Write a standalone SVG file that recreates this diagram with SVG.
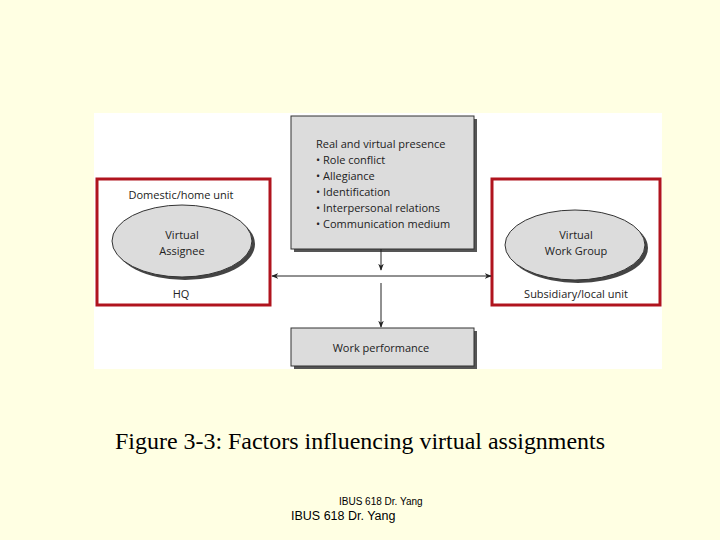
<svg xmlns="http://www.w3.org/2000/svg" width="720" height="540" viewBox="0 0 720 540">
<defs>
<style>
.t{font-family:"Open Sans","Liberation Sans",sans-serif;font-size:11px;fill:#222}
.box{fill:#dcdcdc;stroke:#333;stroke-width:1}
.sh{fill:#555}
.red{fill:none;stroke:#b0141e;stroke-width:3}
.ln{stroke:#222;stroke-width:1;fill:none}
</style>
<marker id="ah" viewBox="0 0 10 10" refX="9" refY="5" markerWidth="7" markerHeight="7" orient="auto-start-reverse" markerUnits="userSpaceOnUse">
<path d="M0,1 L10,5 L0,9 L3,5 Z" fill="#222"/>
</marker>
</defs>
<rect width="720" height="540" fill="#ffffe3"/>
<rect x="94" y="113" width="568" height="256" fill="#fff"/>
<g id="center">
<rect class="sh" x="294" y="119" width="183" height="133"/>
<rect class="box" x="291" y="116" width="183" height="133"/>
<text class="t" x="316" y="148">Real and virtual presence</text>
<text class="t" x="316" y="164">• Role conflict</text>
<text class="t" x="316" y="180">• Allegiance</text>
<text class="t" x="316" y="196">• Identification</text>
<text class="t" x="316" y="212">• Interpersonal relations</text>
<text class="t" x="316" y="228">• Communication medium</text>
</g>
<g id="work">
<rect class="sh" x="294" y="331" width="183" height="38"/>
<rect class="box" x="291" y="328" width="183" height="38"/>
<text class="t" x="381" y="352" text-anchor="middle">Work performance</text>
</g>
<g id="hq">
<rect class="red" x="97" y="179" width="173" height="126"/>
<text class="t" x="181" y="199" text-anchor="middle">Domestic/home unit</text>
<ellipse cx="185" cy="244" rx="70" ry="36" fill="#444"/>
<ellipse cx="182" cy="241" rx="70" ry="36" class="box"/>
<text class="t" x="182" y="239" text-anchor="middle">Virtual</text>
<text class="t" x="182" y="255" text-anchor="middle">Assignee</text>
<text class="t" x="181" y="298" text-anchor="middle">HQ</text>
</g>
<g id="sub">
<rect class="red" x="492" y="179" width="168" height="126"/>
<ellipse cx="578" cy="248" rx="70" ry="35" fill="#444"/>
<ellipse cx="575" cy="245" rx="70" ry="35" class="box"/>
<text class="t" x="576" y="239" text-anchor="middle">Virtual</text>
<text class="t" x="576" y="255" text-anchor="middle">Work Group</text>
<text class="t" x="576" y="298" text-anchor="middle">Subsidiary/local unit</text>
</g>
<g id="connectors">
<line class="ln" x1="272" y1="276" x2="491" y2="276" marker-start="url(#ah)" marker-end="url(#ah)"/>
<line class="ln" x1="381" y1="249" x2="381" y2="270" marker-end="url(#ah)"/>
<line class="ln" x1="381" y1="283" x2="381" y2="327" marker-end="url(#ah)"/>
</g>
<text x="115" y="449" font-family="Liberation Serif,serif" font-size="23" textLength="490" lengthAdjust="spacingAndGlyphs" fill="#000">Figure 3-3: Factors influencing virtual assignments</text>
<text x="339" y="505" font-family="Liberation Sans,sans-serif" font-size="10" fill="#000">IBUS 618 Dr. Yang</text>
<text x="291" y="520" font-family="Liberation Sans,sans-serif" font-size="12.5" fill="#000">IBUS 618 Dr. Yang</text>
</svg>
